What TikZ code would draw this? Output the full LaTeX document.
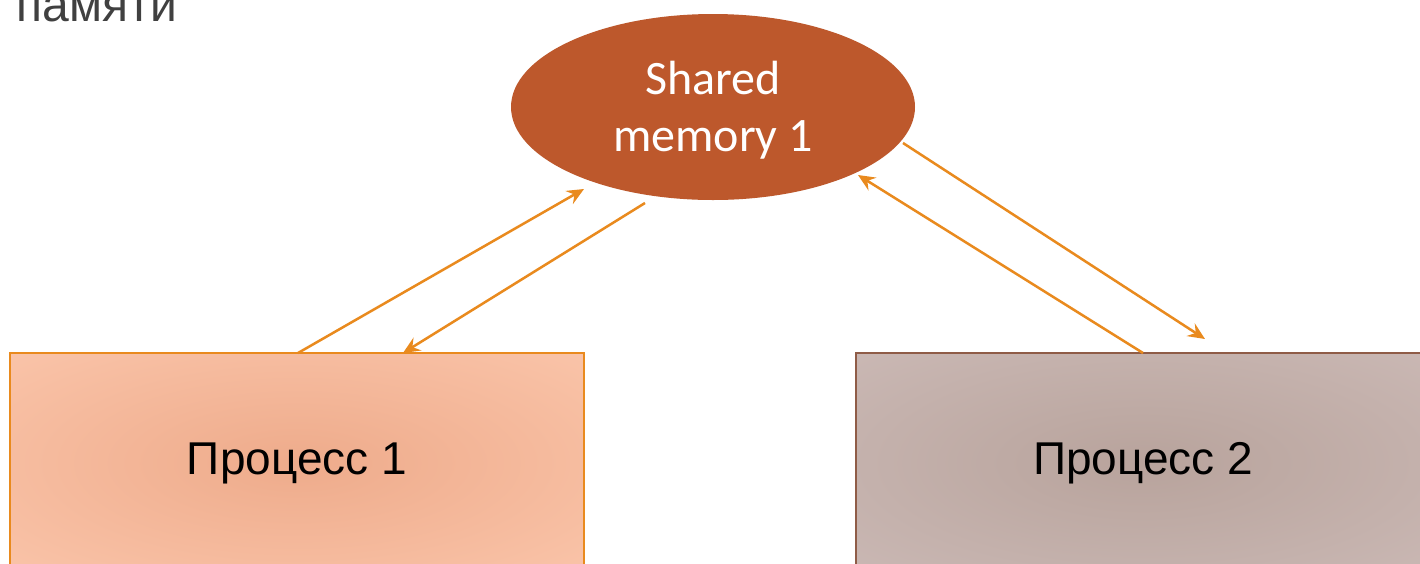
\documentclass[tikz,border=0pt]{standalone}
\usepackage{fontspec}
\setmainfont{Liberation Sans}
\newfontfamily\calfont{Carlito}
\usetikzlibrary{shapes.geometric,arrows.meta}
\definecolor{ellcol}{HTML}{BD582C}
\definecolor{arrcol}{HTML}{E98A1E}
\definecolor{boxAborder}{HTML}{E98A1E}
\definecolor{boxBborder}{HTML}{8F5C47}
\definecolor{boxAin}{HTML}{EEAB8B}
\definecolor{boxAout}{HTML}{FAC4A9}
\definecolor{boxBin}{HTML}{B8A39C}
\definecolor{boxBout}{HTML}{CAB8B4}
\definecolor{titlecol}{HTML}{404040}
\pgfdeclareradialshading{shadeA}{\pgfpoint{0bp}{0bp}}{color(0bp)=(boxAin); color(36bp)=(boxAout); color(100bp)=(boxAout)}
\pgfdeclareradialshading{shadeB}{\pgfpoint{0bp}{0bp}}{color(0bp)=(boxBin); color(36bp)=(boxBout); color(100bp)=(boxBout)}
\tikzset{
  procbox/.style={rectangle, minimum width=287pt, minimum height=110pt, inner sep=0pt, line width=1pt, font=\fontsize{23}{27}\selectfont},
  memell/.style={ellipse, fill=ellcol, minimum width=202pt, minimum height=93pt, inner sep=0pt, text=white, align=center, font=\calfont\fontsize{24}{28.5}\selectfont},
  flow/.style={draw=arrcol, line width=1.25pt, -{Stealth[length=8.5pt,width=7.5pt,inset=3pt]}}
}
\begin{document}
\begin{tikzpicture}[x=0.5pt,y=-0.5pt]
\useasboundingbox (0,0) rectangle (1420,563);
\clip (0,0) rectangle (1420,563);
\fill[white] (0,0) rectangle (1420,563);
\node[anchor=base west, text=titlecol, font=\fontsize{24}{28}\selectfont, inner sep=0pt] (title) at (16,21) {памяти};
\node[memell] (sm) at (713,107) {\rule{0pt}{20pt}Shared\\memory 1};
\node[procbox, draw=boxAborder, shading=shadeA] (p1) at (297,463) {Процесс 1};
\node[procbox, draw=boxBborder, shading=shadeB] (p2) at (1143,463) {Процесс 2};
\coordinate (a1s) at (298,353);
\coordinate (a1e) at (584,189);
\coordinate (a2s) at (645,203);
\coordinate (a2e) at (403,353);
\coordinate (a3s) at (903,143);
\coordinate (a3e) at (1205,339);
\coordinate (a4s) at (1143,353);
\coordinate (a4e) at (858,175);
\draw[flow] (a1s) -- (a1e);
\draw[flow] (a2s) -- (a2e);
\draw[flow] (a3s) -- (a3e);
\draw[flow] (a4s) -- (a4e);
\end{tikzpicture}
\end{document}
